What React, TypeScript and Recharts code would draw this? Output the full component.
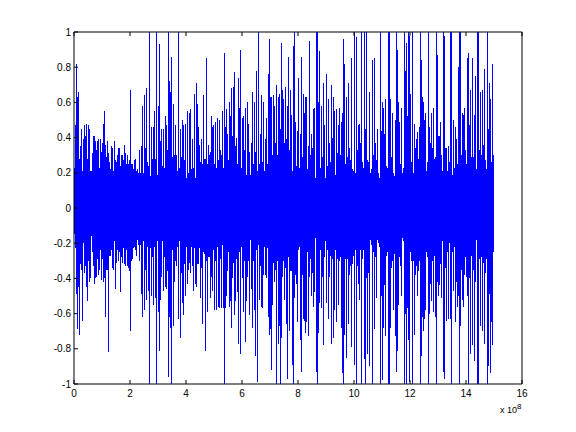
import React from "react";
import { ComposedChart, Line, XAxis, YAxis, Label } from "recharts";

const xTicks = [0, 2e8, 4e8, 6e8, 8e8, 10e8, 12e8, 14e8, 16e8];
const yTicks = [-1, -0.8, -0.6, -0.4, -0.2, 0, 0.2, 0.4, 0.6, 0.8, 1];
const xMax = 16e8;
const plotColumns = 448;
const columns = 420;

const upperStart = [.23,.47,.82,.63,.66,.28,.35,.45,.21,.39,.47,.41,.48,.28,.47,.45,.21,.21,.31,.41,.41,.38,.33,.38,.39,.23,.39,.32,.37,.48,.55,.36,.29,.38,.31,.26,.22,.35,.34,.21,.38,.27,.26,.30,.34,.34,.24,.30,.30,.27,.36,.31,.25,.3,.25,.27,.67,.25,.25,.22,.27,.28,.21,.22,.20,.33,.20,.35,.58,.20,.64,.34,.68,.26,.24,1,.18,.46,.28,.46,.55,.28,1,.19,.58,.93,.38,.45,.24,.45,.23,.52,.47,.33,1,.72,.66,.86,.29,.59,.30,.47,.30,.21,1,.23,.45,.29,.50,.47,.27,.48,.17,.55,.2,.54,.56,.22,.39,.23,.65,.17,.71,.59,.46,.36,.26,.39,.25,.64,.28,.28,.85,.25,.36,.30,.32,.52,.46,.47,.25,.49,.23,.51,.27,.50,.33,.3,.55,.23,.88,.46,.56,.42,.27,.60,.52,.68,.41,.69,.77,.35,.40,.25,.74,.57,.9,.23,.51,.52,.33,.57,.19,.60,.48,.32,.19,.37,.66,.25,.60,.32,.78,.21,1,.25,.42,.64,.26,.60,.21,.39,.51,.25,.76,.96,.63,.63,.30,.64,.58,.37,.70,.30,.63,.65,.45,.94,.67,.62,.37,.69,.39,.58,.86,.33,.67,.53,.21,.92,1,.49,.24,.44,.74,.23,.22,.22];

const upperEnd = [.42,.86,.29,.65,.54,.63,.63,.22,.35,.95,.30,.42,.34,.56,.57,.17,1,1,.6,.89,.23,.58,.29,.71,.47,.17,.76,.24,.62,.37,.26,.7,.4,.63,.55,.19,.56,.31,.47,.57,.3,.49,.54,.96,.82,.25,.63,.29,.71,.34,.27,.85,.22,.21,1,.2,.97,.33,.47,.48,.37,1,.26,.23,1,.45,1,.27,.26,.66,.2,.22,.84,.3,.85,.37,.27,.45,.2,.17,1,.44,.6,.57,.42,.62,.24,.23,1,1,.62,.29,.54,.2,.18,.5,1,.9,.6,.49,.25,.57,.2,.23,1,.78,.94,.52,1,.98,.65,.26,1,.2,.48,.34,.39,.43,.28,.46,1,.84,.63,.6,.5,.54,.21,.26,1,.46,.37,.54,.34,.57,.28,.29,1,.87,.41,.41,.49,.3,.21,1,.98,.34,.34,.21,.35,.26,1,1,.19,.5,.23,.46,.39,.25,.8,1,1,.3,.54,.53,.57,.33,.25,.85,.88,.47,.67,.29,.85,.29,.53,.75,.22,1,1,.33,.66,.3,.67,.36,.79,.27,.22,1,.45,.71,.62,.26,.82,.3];

const lowerStart = [-.15,-.23,-.49,-.69,-.45,-.72,-.32,-.35,-.64,-.2,-.37,-.33,-.45,-.53,-.3,-.42,-.4,-.16,-.25,-.33,-.43,-.4,-.39,-.29,-.38,-.35,-.24,-.41,-.29,-.42,-.4,-.62,-.35,-.35,-.82,-.27,-.27,-.24,-.34,-.35,-.19,-.46,-.31,-.24,-.3,-.25,-.48,-.28,-.31,-.23,-.32,-.33,-.24,-.33,-.34,-.36,-.7,-.3,-.29,-.23,-.22,-.24,-.27,-.18,-.21,-.3,-.21,-.49,-.62,-.19,-.58,-.35,-.52,-.22,-.47,-1,-.23,-.5,-.28,-.55,-.22,-.51,-1,-.19,-.59,-.81,-.52,-.39,-.19,-.47,-.28,-.45,-.46,-.36,-.96,-.62,-.68,-1,-.24,-.67,-.42,-.3,-.33,-.22,-.63,-.19,-.74,-.37,-.54,-.61,-.32,-.5,-.22,-.43,-.35,-.31,-.37,-.22,-.33,-.47,-.23,-.43,-.45,-.32,-.32,-.23,-.51,-.34,-.66,-.25,-.26,-.81,-.3,-.59,-.28,-.28,-.51,-.39,-.47,-.24,-.58,-.3,-.58,-.22,-.56,-.57,-.29,-.57,-.21,-.57,-1,-.57,-.5,-.36,-.25,-.56,-.53,-.68,-.4,-.31,-.61,-.53,-.29,-.48,-.77,-.25,-.83,-.22,-.4,-.59,-.3,-.76,-.53,-.39,-.3,-.61,-.18,-.46,-.68,-.3,-.58,-.84,-.24,-.99,-.21,-.52,-.33,-.56,-.57,-.38,-.22,-.38,-.4,-.23,-.62,-.72,-.69,-.92,-.55,-.31,-.42,-.35,-1,-.3,-.77,-.67,-1,-.74,-.39,-.3,-.52,-.34,-.66,-.97,-.28,-.7,-.36,-.36,-.89,-1,-.51,-.38,-.43,-.65,-.24,-.22,-.22];

const lowerEnd = [-.75,-.93,-.38,-.63,-.64,-.71,-.65,-.25,-.73,-.39,-.29,-.5,-.37,-.56,-.48,-.17,-.93,-1,-.71,-.54,-.24,-.57,-.39,-.78,-.28,-.19,-.54,-.24,-.63,-.39,-.27,-.77,-.29,-.74,-.58,-.24,-.65,-.29,-.55,-.3,-.28,-.68,-.94,-1,-.72,-.29,-.85,-.29,-.66,-.38,-.33,-.79,-.32,-.27,-.89,-.24,-1,-.33,-.43,-.52,-.24,-1,-.29,-.24,-.86,-1,-.4,-.83,-.37,-.9,-.18,-.21,-1,-.25,-.69,-.28,-.51,-.18,-.2,-.22,-1,-.5,-.98,-.68,-.44,-.73,-.27,-.25,-1,-1,-.68,-.34,-.3,-.58,-.26,-.73,-.93,-.81,-.55,-.28,-.33,-.5,-.17,-.19,-1,-.6,-1,-.57,-.75,-.99,-.25,-.3,-1,-.3,-.72,-.38,-.33,-.5,-.36,-.3,-1,-.84,-.62,-.7,-.63,-.58,-.25,-.28,-1,-.6,-.43,-.53,-.3,-.59,-.27,-.62,-1,-.42,-.5,-.44,-.32,-.51,-.19,-.93,-.97,-.34,-.64,-.25,-.63,-.2,-.63,-1,-.25,-.47,-.22,-.65,-.42,-.56,-.5,-1,-.67,-.35,-.52,-.56,-.38,-.28,-.39,-.5,-1,-.4,-.83,-.27,-.78,-.35,-.87,-.42,-.18,-1,-1,-.29,-.67,-.28,-.7,-.31,-.77,-.37,-.29,-1,-.9,-.49,-.94,-.65,-.78,-.25];

const step = xMax / plotColumns;
const xEnd = (columns - 1) * step;
const points: { x: number; y: number }[] = [];
const pushColumn = (x: number, up: number, low: number) => {
  points.push({ x, y: 0 });
  points.push({ x, y: up });
  points.push({ x, y: low });
  points.push({ x, y: 0 });
};
const startCount = Math.min(upperStart.length, lowerStart.length);
for (let i = 0; i < startCount; i++) pushColumn(i * step, upperStart[i], lowerStart[i]);
const endCount = Math.min(upperEnd.length, lowerEnd.length);
for (let i = 0; i < endCount; i++) {
  pushColumn(xEnd - (endCount - 1 - i) * step, upperEnd[upperEnd.length - endCount + i], lowerEnd[lowerEnd.length - endCount + i]);
}

const font = "'Liberation Sans', Arial, sans-serif";
const tickStyle = { fontSize: 10, fontFamily: font, fill: "#000" };
const blank = () => "";

const ExponentLabel = (props: any) => {
  const { viewBox } = props;
  const right = viewBox.x + viewBox.width;
  const bottom = viewBox.y + viewBox.height;
  return (
    <text x={right - 22} y={bottom - 1} fontFamily={font} fontSize={9} fill="#000">
      x 10
      <tspan dy={-4} fontSize={8}>8</tspan>
    </text>
  );
};

export default function App() {
  return (
    <div style={{ position: "absolute", left: 0, top: 0, width: 576, height: 432, background: "#fff" }}>
      <ComposedChart width={576} height={432} data={points} margin={{ top: 22, right: 44, bottom: 18, left: 34 }}>
        <XAxis xAxisId="b" dataKey="x" type="number" domain={[0, 16e8]} ticks={xTicks} allowDataOverflow
          interval={0} tickFormatter={(v: number) => String(Math.round(v / 1e8))} tickSize={-4} tickMargin={10}
          height={30} tick={tickStyle} stroke="#000" axisLine={{ stroke: "#000" }}>
          <Label content={<ExponentLabel />} />
        </XAxis>
        <XAxis xAxisId="t" orientation="top" dataKey="x" type="number" domain={[0, 16e8]} ticks={xTicks}
          interval={0} tickFormatter={blank} tickSize={-4} height={10} stroke="#000" />
        <YAxis yAxisId="l" type="number" domain={[-1, 1]} ticks={yTicks} interval={0} tickSize={-4} tickMargin={7}
          width={40} tick={tickStyle} stroke="#000" tickFormatter={(v: number) => String(Math.round(v * 10) / 10)} />
        <YAxis yAxisId="r" orientation="right" type="number" domain={[-1, 1]} ticks={yTicks} interval={0}
          tickFormatter={blank} tickSize={-4} width={10} stroke="#000" />
        <Line xAxisId="b" yAxisId="l" dataKey="y" type="linear" stroke="#0000ff" strokeWidth={1} dot={false}
          activeDot={false} isAnimationActive={false} shapeRendering="crispEdges" />
      </ComposedChart>
    </div>
  );
}
